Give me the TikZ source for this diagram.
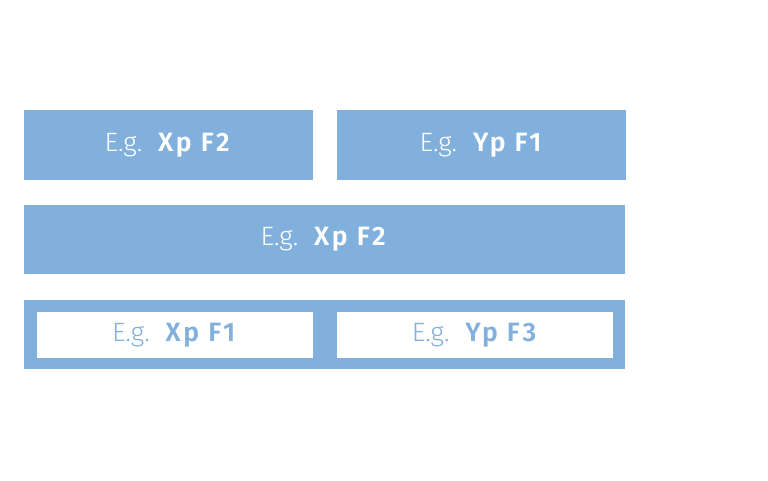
\documentclass[tikz,border=0pt]{standalone}
\usepackage{fontspec}
\setmainfont{Fira Sans}[UprightFont=* Light, BoldFont=* SemiBold, BoldFeatures={LetterSpace=10}]
\usetikzlibrary{positioning}
\definecolor{paneblue}{HTML}{82B0DC}
\newcommand{\eglabel}[1]{E.g.\hspace{0.6em}\textbf{#1}}

\begin{document}
\begin{tikzpicture}[%
		x=1pt,
		y=1pt,
		node distance=24pt,
		pane/.style={%
			fill=paneblue,
			text=white,
			minimum width=289pt,
			minimum height=70pt,
			inner sep=0pt,
			font=\fontsize{26.5}{30}\selectfont
		},
		slot/.style={%
			fill=white,
			text=paneblue,
			minimum width=276pt,
			minimum height=46pt,
			inner sep=0pt,
			font=\fontsize{26.5}{30}\selectfont
		}
		]
		\useasboundingbox (0,0) rectangle (768,-480);
		\node[pane] (xpf2) at (168.5,-145)                            {\eglabel{Xp F2}};
		\node[pane] (ypf1) [right=24pt of xpf2]                       {\eglabel{Yp F1}};
		\node[pane, minimum width=601pt, minimum height=69pt] (wide) at (324.5,-239.5) {\eglabel{Xp F2}};
		\node[pane, minimum width=601pt, minimum height=69pt] (frame) at (324.5,-334.5) {};
		
		
		\node[slot] (xpf1) at (175,-335)                              {\eglabel{Xp F1}};
		\node[slot] (ypf3) [right=24pt of xpf1]                       {\eglabel{Yp F3}};
		\end{tikzpicture}
\end{document}
